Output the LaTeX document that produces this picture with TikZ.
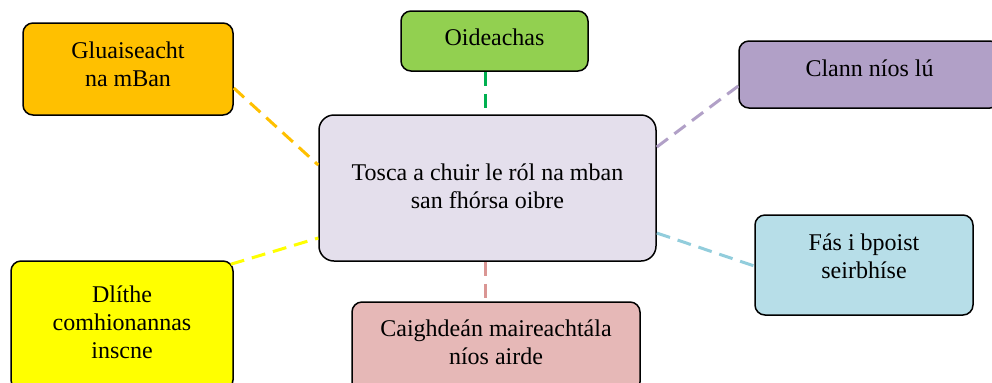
\documentclass[tikz,border=0pt]{standalone}
\usepackage{fontspec}
\setmainfont{Liberation Serif}
\definecolor{cOrange}{HTML}{FFC000}
\definecolor{cGreen}{HTML}{92D050}
\definecolor{cGreenD}{HTML}{00B050}
\definecolor{cPurple}{HTML}{B1A0C7}
\definecolor{cCenter}{HTML}{E4DFEC}
\definecolor{cYellow}{HTML}{FFFF00}
\definecolor{cPink}{HTML}{E6B8B7}
\definecolor{cPinkD}{HTML}{DA9694}
\definecolor{cBlue}{HTML}{B7DEE8}
\definecolor{cBlueD}{HTML}{92CDDC}
\begin{document}
\begin{tikzpicture}[x=0.5pt,y=-0.5pt,
  box/.style={draw=black,line width=0.75pt,rounded corners=5pt,inner sep=0pt},
  txt/.style={align=center,inner sep=0pt,font=\fontsize{12}{14}\selectfont},
  link/.style={line width=1.5pt,dash pattern=on 7pt off 4pt}]
\useasboundingbox (0,0) rectangle (992,382);
\clip (0,0) rectangle (992,382);
% boxes
\node[box,fill=cOrange,minimum width=105pt,minimum height=46pt] (g) at (128,69) {};
\node[txt] (gt) at (128,64) {Gluaiseacht\\na mBan};
\node[box,fill=cGreen,minimum width=93.5pt,minimum height=30pt] (o) at (494.5,41) {};
\node[txt] (ot) at (494.5,37) {Oideachas};
\node[box,fill=cPurple,minimum width=130.5pt,minimum height=33.5pt] (c) at (869.5,74.5) {};
\node[txt] (ct) at (869.5,68) {Clann níos lú};
\node[box,fill=cCenter,rounded corners=7.5pt,minimum width=168.5pt,minimum height=73pt] (m) at (487.5,188) {};
\node[txt] (mt) at (487.5,186) {Tosca a chuir le ról na mban\\san fhórsa oibre};
\node[box,fill=cYellow,minimum width=111pt,minimum height=64.5pt] (d) at (122,325.5) {};
\node[txt] (dt) at (122,322) {Dlíthe\\comhionannas\\inscne};
\node[box,fill=cPink,minimum width=144pt,minimum height=45pt] (k) at (496,347) {};
\node[txt] (kt) at (496,342) {Caighdeán maireachtála\\níos airde};
\node[box,fill=cBlue,minimum width=109pt,minimum height=50pt] (f) at (864,265) {};
\node[txt] (ft) at (864,256.5) {Fás i bpoist\\seirbhíse};
% connectors
\draw[link,cOrange] ([shift={(0,19)}]g.east) -- ([shift={(0,-23)}]m.west);
\coordinate (og) at ([shift={(-9.5,0)}]o.south);
\draw[link,cGreenD] (og) -- (og |- m.north);
\draw[link,cPurple] ([shift={(0,-41)}]m.east) -- ([shift={(0,11.5)}]c.west);
\draw[link,cYellow] ([shift={(-3,4)}]d.north east) -- ([shift={(0,50)}]m.west);
\coordinate (pk) at ([shift={(-2.5,0)}]m.south);
\draw[link,cPinkD] (pk) -- (pk |- k.north);
\draw[link,cBlueD] ([shift={(0,45)}]m.east) -- ([shift={(0,1)}]f.west);
\end{tikzpicture}
\end{document}
